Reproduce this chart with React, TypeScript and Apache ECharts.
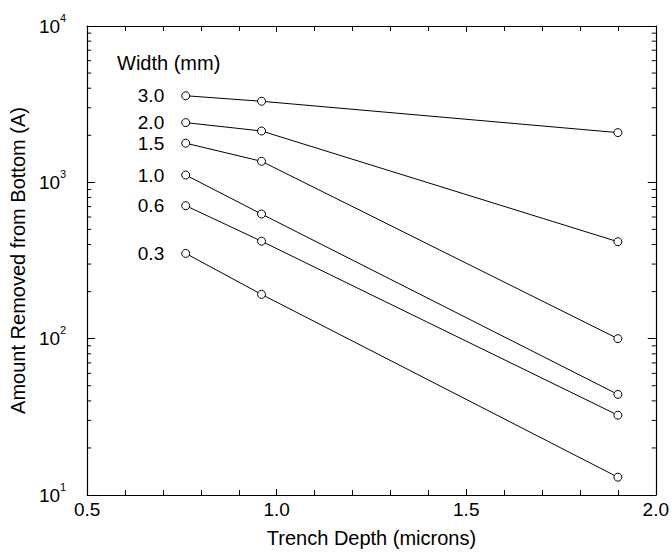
import React, { useEffect, useRef } from "react";
import * as echarts from "echarts";

const depths = [0.76, 0.96, 1.9];
const widthNames = ["3.0", "2.0", "1.5", "1.0", "0.6", "0.3"];
const w30 = [3580, 3300, 2080];
const w20 = [2410, 2130, 417];
const w15 = [1780, 1363, 100];
const w10 = [1114, 627, 44];
const w06 = [709, 420, 32.4];
const w03 = [351, 192, 13.0];
const seriesValues = [w30, w20, w15, w10, w06, w03];
const yDecades = [10, 100, 1000];
const yMinorMultiples = [2, 3, 4, 5, 6, 7, 8, 9];

const FONT = '"Liberation Sans", Arial, Helvetica, sans-serif';

export default function App() {
  const ref = useRef<HTMLDivElement>(null);
  useEffect(() => {
    if (!ref.current) return;
    const chart = echarts.init(ref.current, null, { renderer: "svg" });
    const yMinor: number[] = [];
    yDecades.forEach((d) => yMinorMultiples.forEach((m) => yMinor.push(d * m)));

    const lineSeries = seriesValues.map((vals, si) => ({
      type: "line",
      name: widthNames[si],
      xAxisIndex: 0,
      yAxisIndex: 0,
      symbol: "circle",
      symbolSize: 8,
      showSymbol: true,
      lineStyle: { color: "#000", width: 1 },
      itemStyle: { color: "#fff", borderColor: "#000", borderWidth: 1 },
      z: 3,
      data: vals.map((v, i) =>
        i === 0
          ? {
              value: [depths[i], v],
              label: {
                show: true,
                position: "left",
                distance: 17,
                formatter: widthNames[si],
                color: "#000",
                fontSize: 19,
                fontFamily: FONT,
              },
            }
          : [depths[i], v]
      ),
    }));

    const xAxisBase = {
      type: "value",
      min: 0.5,
      max: 2.0,
      interval: 0.5,
      axisLine: { show: true, lineStyle: { color: "#000", width: 1.2 } },
      axisTick: { show: true, inside: true, length: 6, lineStyle: { color: "#000", width: 1 } },
      minorTick: { show: true, splitNumber: 5, length: 5, lineStyle: { color: "#000", width: 1 } },
      splitLine: { show: false },
      minorSplitLine: { show: false },
    };
    const yAxisBase = {
      type: "log",
      logBase: 10,
      min: 10,
      max: 10000,
      interval: 1,
      axisLine: { show: true, lineStyle: { color: "#000", width: 1.2 } },
      axisTick: { show: true, inside: true, length: 8, lineStyle: { color: "#000", width: 1 } },
      splitLine: { show: false },
    };

    chart.setOption({
      animation: false,
      backgroundColor: "#fff",
      textStyle: { fontFamily: FONT },
      grid: { left: 86, right: 16, top: 26, bottom: 60, containLabel: false },
      xAxis: [
        {
          ...xAxisBase,
          position: "bottom",
          name: "Trench Depth (microns)",
          nameLocation: "middle",
          nameGap: 33,
          nameTextStyle: { color: "#000", fontSize: 20, fontFamily: FONT },
          axisLabel: {
            color: "#000",
            fontSize: 19,
            fontFamily: FONT,
            margin: 5,
            formatter: (v: number) => v.toFixed(1),
          },
        },
        { ...xAxisBase, position: "top", axisLabel: { show: false } },
      ],
      yAxis: [
        {
          ...yAxisBase,
          position: "left",
          name: "Amount Removed from Bottom (A)",
          nameLocation: "middle",
          nameGap: 48,
          nameTextStyle: { color: "#000", fontSize: 20, fontFamily: FONT },
          axisLabel: {
            color: "#000",
            margin: 21,
            fontSize: 19,
            fontFamily: FONT,
            formatter: (v: number) => "{b|10}{s|" + Math.round(Math.log10(v)) + "}",
            rich: {
              b: { fontSize: 19, lineHeight: 28, color: "#000", fontFamily: FONT },
              s: { fontSize: 11, lineHeight: 10, verticalAlign: "top", color: "#000", fontFamily: FONT },
            },
          },
        },
        { ...yAxisBase, position: "right", axisLabel: { show: false } },
      ],
      graphic: [
        {
          type: "text",
          x: 117,
          y: 63,
          style: {
            text: "Width (mm)",
            fill: "#000",
            fontSize: 20,
            fontFamily: FONT,
            textVerticalAlign: "middle",
          },
        },
      ],
      series: [
        ...lineSeries,
        {
          type: "custom",
          xAxisIndex: 0,
          yAxisIndex: 0,
          silent: true,
          clip: false,
          z: 2,
          data: yMinor.map((v) => [0.5, v]),
          renderItem: (params: any, api: any) => {
            const v = api.value(1);
            const l = api.coord([0.5, v]);
            const r = api.coord([2.0, v]);
            return {
              type: "group",
              children: [
                {
                  type: "line",
                  shape: { x1: l[0], y1: l[1], x2: l[0] + 4, y2: l[1] },
                  style: { stroke: "#000", lineWidth: 1 },
                },
                {
                  type: "line",
                  shape: { x1: r[0] - 4, y1: r[1], x2: r[0], y2: r[1] },
                  style: { stroke: "#000", lineWidth: 1 },
                },
              ],
            };
          },
        },
      ],
    });
    return () => chart.dispose();
  }, []);
  return (
    <div
      ref={ref}
      style={{ position: "fixed", left: 0, top: 0, width: 672, height: 555, background: "#fff" }}
    />
  );
}
